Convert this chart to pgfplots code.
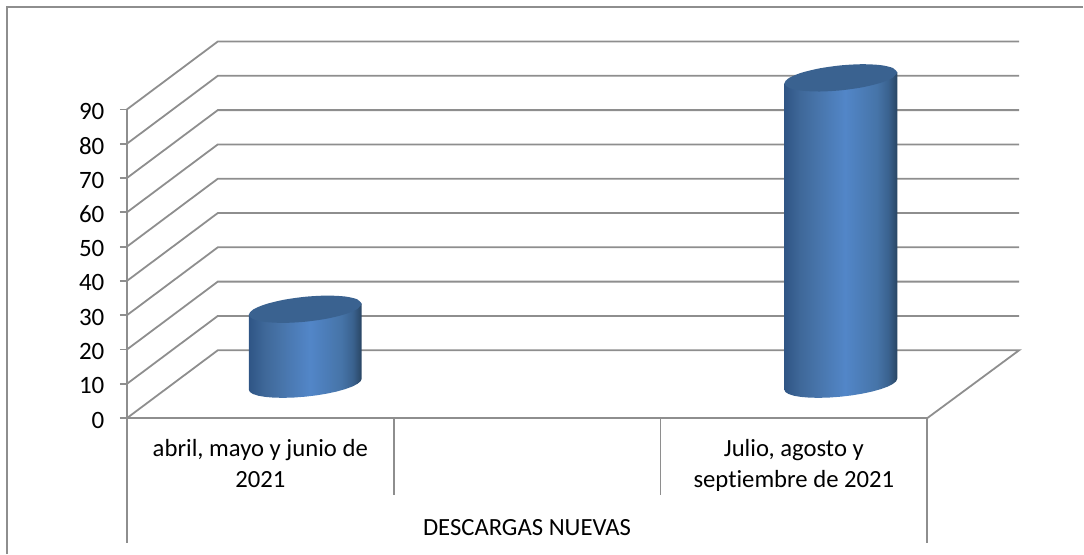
\documentclass[border=0pt]{standalone}
\usepackage{fontspec}
\setmainfont{Carlito}[Ligatures=NoCommon]
\usepackage{pgfplots}
\pgfplotsset{compat=1.18}
\definecolor{gridg}{HTML}{8E8E8E}
\definecolor{captop}{HTML}{3A6290}
\definecolor{c0}{HTML}{2F5585}
\definecolor{c1}{HTML}{3F6899}
\definecolor{c2}{HTML}{4875AB}
\definecolor{c3}{HTML}{5286C8}
\definecolor{c4}{HTML}{4674A8}
\definecolor{c5}{HTML}{3A628F}
\definecolor{c6}{HTML}{294563}
\pgfdeclarehorizontalshading{cyl}{100bp}{
  color(0bp)=(c0); color(25bp)=(c0); color(32bp)=(c1); color(40bp)=(c2);
  color(52bp)=(c3); color(66bp)=(c4); color(71bp)=(c5); color(75bp)=(c6); color(100bp)=(c6)}
\begin{document}
\begin{tikzpicture}[x=1pt,y=1pt]
\begin{axis}[
  scale only axis, width=801pt, height=309pt,
  xmin=127, xmax=928, ymin=0, ymax=90,
  anchor=origin, at={(127pt,135.5pt)},
  clip=false,
  axis x line=bottom, axis y line=left,
  axis line style={-, draw=gridg, line width=1.8pt},
  ytick={0,10,...,90},
  xtick={260.5,527.5,794.5},
  xticklabels={{abril, mayo y junio de\\2021},{},{Julio, agosto y\\septiembre de 2021}},
  major x tick style={draw=none},
  major y tick style={draw=gridg, line width=1.8pt},
  tick align=outside, major tick length=7pt,
  /pgf/number format/assume math mode=true,
  y tick label style={font=\fontsize{25}{28}\selectfont, xshift=-12pt, yshift=-2pt},
  x tick label style={font=\fontsize{24.7}{31}\selectfont, align=center, yshift=-11pt},
  xlabel={DESCARGAS NUEVAS},
  xlabel style={font=\fontsize{24.7}{28}\selectfont, at={(axis description cs:0.5,0)}, anchor=center, yshift=-110pt},
]
% page area and frame
\addplot[draw=none, forget plot] coordinates {(0,-39.61) (1084,-39.61) (1084,121.9) (0,121.9)} -- cycle;
\addplot[gridg, line width=1.8pt] coordinates {(7,-39.61) (7,119.9) (1084,119.9)};
% grid: front edge, back wall
\addplot[gridg, line width=1.8pt] coordinates {(928,0) (1020,19.8) (218,19.8) (127,0)};
\addplot[gridg, line width=1.8pt] coordinates {(127,10) (218,29.8) (1020,29.8)};
\addplot[gridg, line width=1.8pt] coordinates {(127,20) (218,39.8) (1020,39.8)};
\addplot[gridg, line width=1.8pt] coordinates {(127,30) (218,49.8) (1020,49.8)};
\addplot[gridg, line width=1.8pt] coordinates {(127,40) (218,59.8) (1020,59.8)};
\addplot[gridg, line width=1.8pt] coordinates {(127,50) (218,69.8) (1020,69.8)};
\addplot[gridg, line width=1.8pt] coordinates {(127,60) (218,79.8) (1020,79.8)};
\addplot[gridg, line width=1.8pt] coordinates {(127,70) (218,89.8) (1020,89.8)};
\addplot[gridg, line width=1.8pt] coordinates {(127,80) (218,99.8) (1020,99.8)};
\addplot[gridg, line width=1.8pt] coordinates {(127,90) (218,109.8) (1020,109.8)};
% category separators
\addplot[gridg, line width=1.8pt] coordinates {(127,0) (127,-36.3)};
\addplot[gridg, line width=1.8pt] coordinates {(394,0) (394,-22.5)};
\addplot[gridg, line width=1.8pt] coordinates {(661,0) (661,-22.5)};
\addplot[gridg, line width=1.8pt] coordinates {(928,0) (928,-36.3)};
% cylinder 1 (value 22)
\addplot[draw=none, shading=cyl] coordinates {
 (249,30.15) (249,8.30) (250.1,7.62) (253.3,7.03) (258.5,6.54) (265.55,6.19) (274.1,5.98) (283.9,5.92)
 (294.5,6.02) (305.5,6.26) (316.5,6.64) (327.1,7.15) (336.9,7.76) (345.45,8.46) (352.5,9.21)
 (357.7,9.99) (360.9,10.76) (362,11.50) (362,33.35)} -- cycle;
\addplot[draw=none, fill=captop, smooth] coordinates {
 (362,33.35) (357.7,34.62) (345.45,35.46) (327.1,35.73) (305.5,35.39) (283.9,34.5) (265.55,33.19) (253.3,31.66)
 (249,30.15) (253.3,28.88) (265.55,28.04) (283.9,27.77) (305.5,28.11) (327.1,29.0) (345.45,30.31) (357.7,31.84) (362,33.35)} -- cycle;
% cylinder 2 (value 89)
\addplot[draw=none, shading=cyl] coordinates {
 (785,97.6) (785,8.30) (786.1,7.62) (789.3,7.03) (794.5,6.54) (801.55,6.19) (810.1,5.98) (819.9,5.92)
 (830.5,6.02) (841.5,6.26) (852.5,6.64) (863.1,7.15) (872.9,7.76) (881.45,8.46) (888.5,9.21)
 (893.7,9.99) (896.9,10.76) (898,11.50) (898,100.8)} -- cycle;
\addplot[draw=none, fill=captop, smooth] coordinates {
 (898,100.8) (893.7,102.07) (881.45,102.91) (863.1,103.18) (841.5,102.84) (819.9,101.95) (801.55,100.64) (789.3,99.11)
 (785,97.6) (789.3,96.33) (801.55,95.49) (819.9,95.22) (841.5,95.56) (863.1,96.45) (881.45,97.76) (893.7,99.29) (898,100.8)} -- cycle;
\end{axis}
\end{tikzpicture}
\end{document}
